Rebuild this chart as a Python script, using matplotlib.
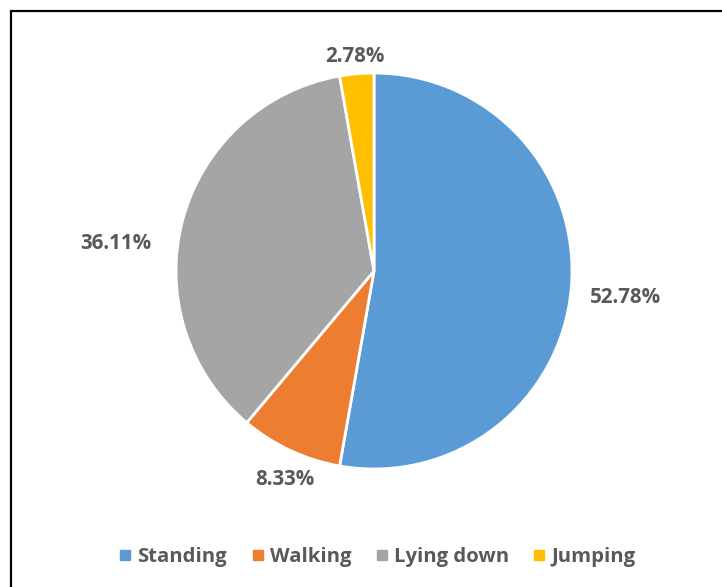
import matplotlib
matplotlib.use("Agg")
import matplotlib.pyplot as plt
import numpy as np
from matplotlib.lines import Line2D

categories = ["Standing", "Walking", "Lying down", "Jumping"]
values = [52.78, 8.33, 36.11, 2.78]
pct_labels = ["52.78%", "8.33%", "36.11%", "2.78%"]
colors = ["#5B9BD5", "#ED7D31", "#A5A5A5", "#FFC000"]

label_dist = [1.275, 1.146, 1.31, 1.09]
label_angle_shift = [-1.0, 2.0, 9.0, 0.0]

W, H = 722, 587
fig = plt.figure(figsize=(W / 100, H / 100), dpi=100)
fig.patch.set_facecolor("white")

font = "Open Sans"
txtcol = "#595959"

# border (partially outside the image)
ax_b = fig.add_axes([0, 0, 1, 1])
ax_b.set_xlim(0, W)
ax_b.set_ylim(H, 0)
ax_b.axis("off")
ax_b.plot([11, 11, W + 5], [H + 5, 11, 11], color="black", lw=1.6, solid_joinstyle="miter")

# pie axes, in pixel coordinates
cx, cy, r = 374, H - 271, 198
ax = fig.add_axes([0, 0, 1, 1])
ax.set_facecolor("none")
wedges, _ = ax.pie(values, colors=colors, startangle=90, counterclock=False,
                   radius=r, center=(cx, cy),
                   wedgeprops=dict(edgecolor="white", linewidth=2))
ax.set_xlim(0, W)
ax.set_ylim(0, H)
ax.set_aspect("auto")
ax.axis("off")

for w, lab, d, sh in zip(wedges, pct_labels, label_dist, label_angle_shift):
    th = np.deg2rad((w.theta1 + w.theta2) / 2 + sh)
    x = cx + d * r * np.cos(th)
    y = cy + d * r * np.sin(th)
    ax.text(x, y, lab, ha="center", va="center", fontsize=14.8, fontweight="bold",
            color=txtcol, family=font)

handles = [Line2D([0], [0], marker="s", linestyle="none", markersize=7,
                  markerfacecolor=c, markeredgecolor=c) for c in colors]
fig.legend(handles, categories, loc="center", bbox_to_anchor=(0.52, 1 - 557 / H),
           ncol=4, frameon=False, handletextpad=0.1, columnspacing=1.0,
           prop=dict(family=font, weight="bold", size=14.6), labelcolor=txtcol,
           handlelength=1.0)

fig.savefig("out.png", dpi=100, facecolor="white")
